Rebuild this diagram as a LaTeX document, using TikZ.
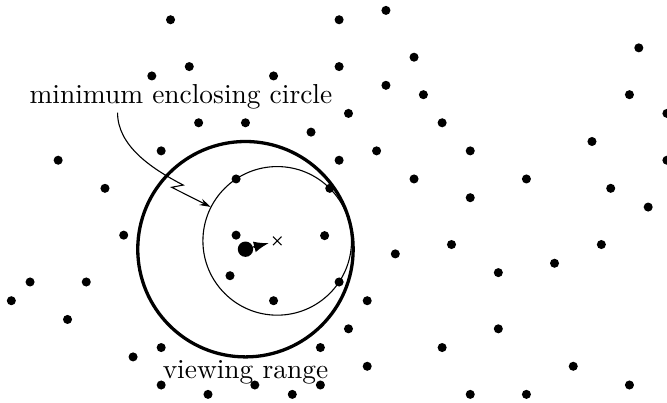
\documentclass[tikz,border=0pt]{standalone}
\usepackage{tikz}
\usetikzlibrary{positioning,arrows.meta,shapes.misc,calc}

\begin{document}
\begin{tikzpicture}[x=0.12cm, y=-0.12cm,
  dot/.style={circle, fill=black, inner sep=0pt, minimum size=3.3pt},
  viewer/.style={circle, fill=black, inner sep=0pt, minimum size=5.6pt}]
  \useasboundingbox (-0.21,-0.11) rectangle (71.01,42.82);
  \foreach \x/\y [count=\k] in {18/2, 36/2, 41/1, 68/5, 20/7, 16/8, 29/8, 36/7, 44/6, 41/9, 45/10, 67/10, 71/12, 37/12, 47/13, 26/13, 21/13, 33/14, 63/15, 17/16, 40/16, 50/16, 6/17, 36/17, 71/17, 44/19, 56/19, 11/20, 65/20, 50/21, 69/22, 13/25, 42/27, 48/26, 64/26, 59/28, 53/29, 3/30, 9/30, 1/32, 39/32, 7/34, 37/35, 53/35, 17/37, 34/37, 47/37, 14/38, 39/39, 61/39, 17/41, 27/41, 34/41, 67/41, 22/42, 31/42, 50/42, 56/42}
    \node[dot] (p\k) at (\x,\y) {};
  \foreach \x/\y [count=\k] in {25/19, 35/20, 36/30, 25/25, 34.45/25.05, 24.35/29.33, 29/32}
    \node[dot] (q\k) at (\x,\y) {};
  \node[circle, draw, line width=1.2pt, inner sep=0pt, minimum size=2.76cm] (range) at (26,26.5) {};
  \node[circle, draw, line width=0.4pt, inner sep=0pt, minimum size=1.904cm] (mec) at (29.39,25.61) {};
  \node[viewer] (eye) at (range.center) {};
  \node[cross out, draw, line width=0.4pt, inner sep=0pt, minimum size=2.7pt] (ctr) at (mec.center) {};
  \draw[line width=0.7pt, -{Latex[length=5.5pt,width=4pt]}, shorten >=1.5pt] (eye) -- (ctr);
  \node[anchor=base] (mectext) at (19.11,10.92) {minimum enclosing circle};
  \node[below=0.5pt of range.south, inner sep=0pt] (rangetext) {viewing range};
  \coordinate (kink) at (19.36,19.65);
  \coordinate (back) at (18.12,19.89);
  \draw[-{Stealth[length=4pt,width=2.5pt]}] ([xshift=35.6pt, yshift=2.2pt]mectext.south west)
    .. controls +(0,3.5) and +(-3.5,-1.8) .. (kink) -- (back) -- (mec.153);
\end{tikzpicture}
\end{document}
